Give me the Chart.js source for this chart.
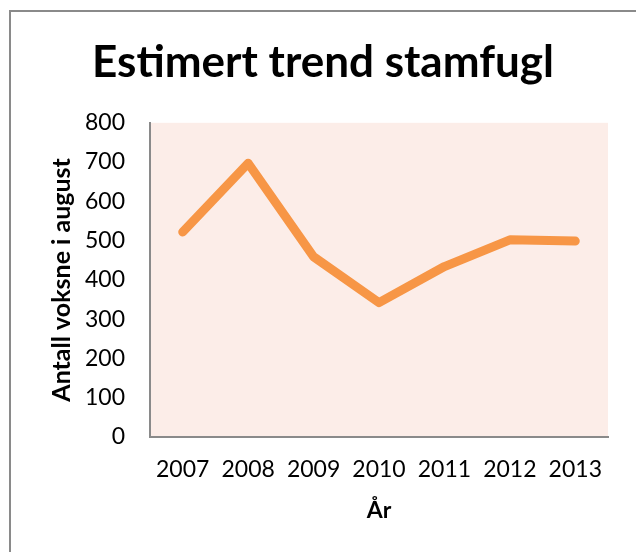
<!DOCTYPE html>
<html>
<head>
<meta charset="utf-8">
<script src="https://cdn.jsdelivr.net/npm/chart.js@4"></script>
<style>
  body { margin: 0; background: #fff; overflow: hidden; }
  #wrap { position: relative; width: 636px; height: 552px; }
  #frame { position: absolute; left: 9px; top: 10px; width: 700px; height: 700px; border: 2px solid #8a8a8a; }
  canvas { position: absolute; left: 0; top: 0; }
</style>
</head>
<body>
<div id="wrap">
  <div id="frame"></div>
  <canvas id="trend" width="636" height="552"></canvas>
</div>
<script>
const years = ["2007", "2008", "2009", "2010", "2011", "2012", "2013"];
const voksne = [522, 697, 459, 342, 434, 502, 499];
const yTicks = [0, 100, 200, 300, 400, 500, 600, 700, 800];

const ctx = document.getElementById("trend");
const font = "Lato, 'Open Sans', sans-serif";

// pink plot area
const plotBg = {
  id: "plotBg",
  beforeDraw(chart) {
    const a = chart.chartArea;
    chart.ctx.save();
    chart.ctx.fillStyle = "#fcede8";
    chart.ctx.fillRect(a.left, a.top, a.right - a.left, a.bottom - a.top);
    chart.ctx.restore();
  },
};

new Chart(ctx, {
  type: "line",
  data: {
    labels: years,
    datasets: [
      {
        label: "Antall voksne i august",
        data: voksne,
        borderColor: "#f79646",
        backgroundColor: "#f79646",
        borderWidth: 9,
        borderCapStyle: "round",
        borderJoinStyle: "round",
        pointRadius: 0,
        tension: 0,
      },
    ],
  },
  options: {
    responsive: false,
    animation: false,
    layout: { padding: { left: 10, top: 0, right: 0, bottom: 0 } },
    plugins: {
      legend: { display: false },
      tooltip: { enabled: false },
      title: {
        display: true,
        text: "Estimert trend stamfugl",
        color: "#000",
        font: { family: font, size: 44, weight: "bold", lineHeight: 1.2 },
        padding: { top: 36, bottom: 34 },
      },
    },
    scales: {
      x: {
        type: "category",
        offset: true,
        grid: { display: false, drawTicks: false },
        border: { display: true, color: "#8a8a8a", width: 2 },
        ticks: { color: "#000", font: { family: font, size: 23 }, padding: 19, maxRotation: 0 },
        title: {
          display: true,
          text: "År",
          color: "#000",
          font: { family: font, size: 23, weight: "bold", lineHeight: 1.2 },
          padding: { top: 0, bottom: 28 },
        },
        afterFit(scale) { scale.height = 115; },
      },
      y: {
        min: 0,
        max: 800,
        afterBuildTicks(scale) { scale.ticks = yTicks.map((v) => ({ value: v })); },
        grid: { display: false, drawTicks: false },
        border: { display: true, color: "#8a8a8a", width: 2 },
        ticks: { color: "#000", font: { family: font, size: 23 }, padding: 25 },
        title: {
          display: true,
          text: "Antall voksne i august",
          color: "#000",
          font: { family: font, size: 25, weight: "bold", lineHeight: 1.2 },
          padding: { top: 37, bottom: 0 },
        },
        afterFit(scale) { scale.width = 140; },
      },
      // empty right gutter
      yr: {
        position: "right",
        display: true,
        grid: { display: false, drawTicks: false },
        border: { display: false },
        ticks: { display: false },
        afterFit(scale) { scale.width = 28; },
      },
    },
  },
  plugins: [plotBg],
});
</script>
</body>
</html>
